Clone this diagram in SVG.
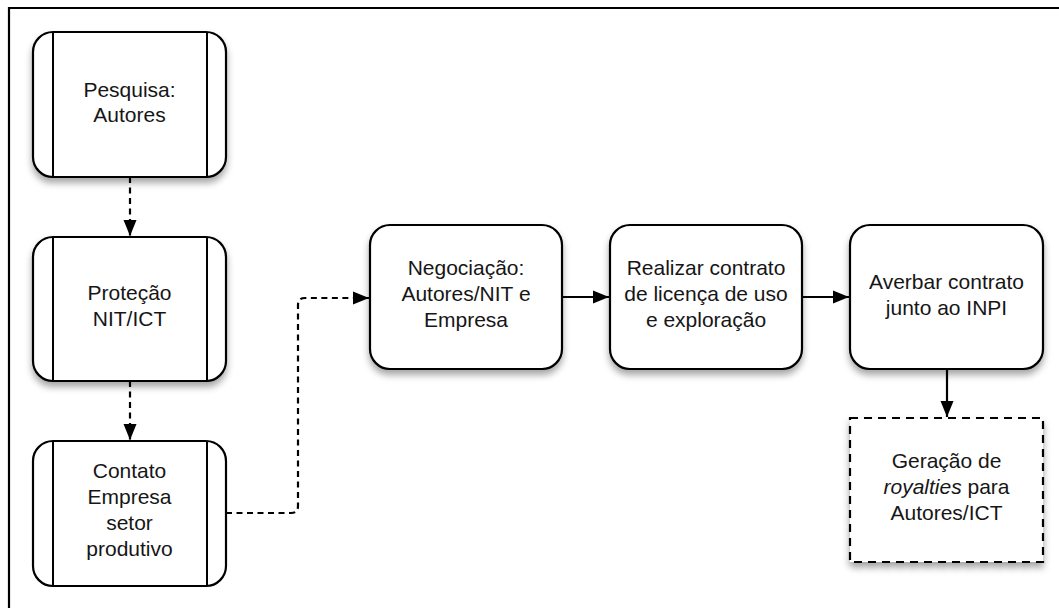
<svg xmlns="http://www.w3.org/2000/svg" width="1059" height="608" viewBox="0 0 1059 608">
  <style>
    .box { fill: #ffffff; stroke: #000000; stroke-width: 2.2; }
    .dbox { fill: #ffffff; stroke: #000000; stroke-width: 2.2; stroke-dasharray: 8 6; }
    .bar { stroke: #000000; stroke-width: 2; }
    .lbl { font-family: "Liberation Sans", Arial, sans-serif; font-size: 21px; fill: #161616; text-anchor: middle; }
    .edge { fill: none; stroke: #000000; stroke-width: 2.2; }
    .dash { stroke-dasharray: 6 4.5; }
    .frame { fill: none; stroke: #000000; stroke-width: 2.2; }
  </style>
  <defs>
    <filter id="shadow" x="-20%" y="-20%" width="140%" height="150%">
      <feDropShadow dx="0" dy="5" stdDeviation="3.5" flood-color="#000000" flood-opacity="0.35"/>
    </filter>
    <marker id="arrow" markerUnits="userSpaceOnUse" markerWidth="18" markerHeight="16" refX="16" refY="8" orient="auto">
      <path d="M0,1.5 L16,8 L0,14.5 Z" fill="#000000"/>
    </marker>
  </defs>

  <rect width="1059" height="608" fill="#ffffff"/>
  <!-- outer frame (top and left edges) -->
  <path class="frame" d="M9,608 V8 H1059"/>

  <g id="connectors">
    <path class="edge dash" d="M130,177 V236" marker-end="url(#arrow)"/>
    <path class="edge dash" d="M130,381 V440" marker-end="url(#arrow)"/>
    <path class="edge dash" d="M226,513 H291 Q298,513 298,506 V305 Q298,298 305,298 H369" marker-end="url(#arrow)"/>
    <path class="edge" d="M562,297 H609" marker-end="url(#arrow)"/>
    <path class="edge" d="M802,297 H849" marker-end="url(#arrow)"/>
    <path class="edge" d="M947,369 V417" marker-end="url(#arrow)"/>
  </g>

  <g id="pesquisa">
    <rect class="box" x="33" y="32" width="193" height="145" rx="20" filter="url(#shadow)"/>
    <line class="bar" x1="53" y1="32" x2="53" y2="177"/>
    <line class="bar" x1="207" y1="32" x2="207" y2="177"/>
    <text class="lbl" x="129.5" y="97">Pesquisa:</text>
    <text class="lbl" x="129.5" y="122">Autores</text>
  </g>

  <g id="protecao">
    <rect class="box" x="33" y="237" width="193" height="144" rx="20" filter="url(#shadow)"/>
    <line class="bar" x1="53" y1="237" x2="53" y2="381"/>
    <line class="bar" x1="207" y1="237" x2="207" y2="381"/>
    <text class="lbl" x="129.5" y="300">Proteção</text>
    <text class="lbl" x="129.5" y="326">NIT/ICT</text>
  </g>

  <g id="contato">
    <rect class="box" x="33" y="441" width="193" height="145" rx="20"/>
    <line class="bar" x1="53" y1="441" x2="53" y2="586"/>
    <line class="bar" x1="207" y1="441" x2="207" y2="586"/>
    <text class="lbl" x="129.5" y="478">Contato</text>
    <text class="lbl" x="129.5" y="504">Empresa</text>
    <text class="lbl" x="129.5" y="530">setor</text>
    <text class="lbl" x="129.5" y="556">produtivo</text>
  </g>

  <g id="negociacao">
    <rect class="box" x="370" y="225" width="192" height="144" rx="20" filter="url(#shadow)"/>
    <text class="lbl" x="466" y="275">Negociação:</text>
    <text class="lbl" x="466" y="301">Autores/NIT e</text>
    <text class="lbl" x="466" y="327">Empresa</text>
  </g>

  <g id="realizar">
    <rect class="box" x="610" y="225" width="192" height="144" rx="20" filter="url(#shadow)"/>
    <text class="lbl" x="706" y="275">Realizar contrato</text>
    <text class="lbl" x="706" y="301">de licença de uso</text>
    <text class="lbl" x="706" y="327">e exploração</text>
  </g>

  <g id="averbar">
    <rect class="box" x="850" y="225" width="193" height="144" rx="20" filter="url(#shadow)"/>
    <text class="lbl" x="946.5" y="289">Averbar contrato</text>
    <text class="lbl" x="946.5" y="315">junto ao INPI</text>
  </g>

  <g id="royalties">
    <rect class="dbox" x="850" y="418" width="193" height="144" filter="url(#shadow)"/>
    <text class="lbl" x="946.5" y="468">Geração de</text>
    <text class="lbl" x="946.5" y="494"><tspan font-style="italic">royalties</tspan> para</text>
    <text class="lbl" x="946.5" y="520">Autores/ICT</text>
  </g>
</svg>
